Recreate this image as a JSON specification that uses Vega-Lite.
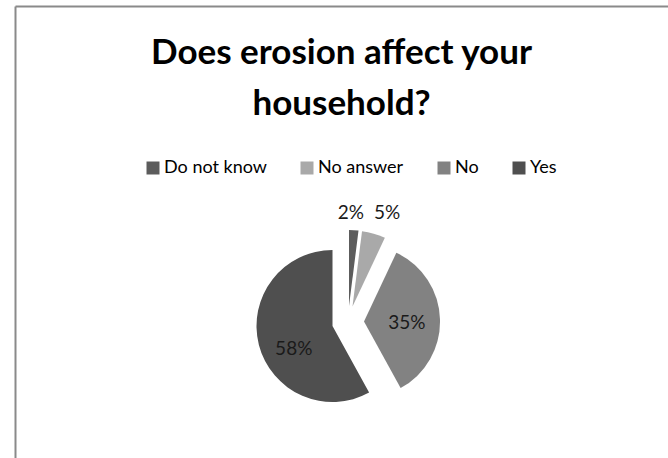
{
  "$schema": "https://vega.github.io/schema/vega-lite/v6.json",
  "width": 653,
  "height": 452,
  "autosize": {"type": "none"},
  "padding": {"left": 15, "top": 6, "right": 0, "bottom": 0},
  "background": "white",
  "config": {"view": {"stroke": null}},
  "title": {
    "text": ["Does erosion affect your", "household?"],
    "anchor": "middle",
    "frame": "group",
    "font": "Lato",
    "fontWeight": "bold",
    "fontSize": 35,
    "lineHeight": 51,
    "color": "#000000",
    "offset": -116
  },
  "data": {
    "values": [
      {"answer": "Do not know", "share": 2, "order": 1},
      {"answer": "No answer", "share": 5, "order": 2},
      {"answer": "No", "share": 35, "order": 3},
      {"answer": "Yes", "share": 58, "order": 4}
    ]
  },
  "transform": [
    {"stack": "share", "groupby": [], "sort": [{"field": "order", "order": "ascending"}], "as": ["s0", "s1"]},
    {"calculate": "(datum.s0 + datum.s1) / 2", "as": "mid"},
    {"calculate": "datum.share + '%'", "as": "label"}
  ],
  "layer": [
    {
      "mark": {"type": "point", "opacity": 0},
      "encoding": {
        "x": {"datum": 0, "type": "quantitative", "scale": {"domain": [0, 1]},
              "axis": {"orient": "top", "domain": true, "domainColor": "#8a8a8a", "domainWidth": 2, "ticks": false, "labels": false, "grid": false, "title": null}},
        "y": {"datum": 0, "type": "quantitative", "scale": {"domain": [0, 1]},
              "axis": {"orient": "left", "domain": true, "domainColor": "#8a8a8a", "domainWidth": 2, "ticks": false, "labels": false, "grid": false, "title": null}}
      }
    },
    {
      "transform": [{"filter": "datum.answer === 'Do not know'"}],
      "mark": {"type": "arc", "radius": 76, "xOffset": 7.5, "yOffset": 74},
      "encoding": {
        "theta": {"field": "s0", "type": "quantitative", "scale": {"domain": [0, 100], "range": [0, 6.283185307]}},
        "theta2": {"field": "s1"},
        "color": {"field": "answer", "type": "nominal",
          "scale": {"domain": ["Do not know", "No answer", "No", "Yes"], "range": ["#5c5c5c", "#a9a9a9", "#828282", "#4f4f4f"]},
          "legend": {"orient": "none", "legendX": 129, "legendY": 153, "direction": "horizontal", "columns": 4, "title": null,
            "symbolType": "square", "symbolSize": 169, "symbolStrokeWidth": 0, "labelFont": "Lato", "labelFontSize": 18, "labelColor": "#000000",
            "labelOffset": 2, "columnPadding": 31}}
      }
    },
    {
      "transform": [{"filter": "datum.answer === 'No answer'"}],
      "mark": {"type": "arc", "radius": 76, "xOffset": 11, "yOffset": 74.6},
      "encoding": {
        "theta": {"field": "s0", "type": "quantitative"},
        "theta2": {"field": "s1"},
        "color": {"field": "answer", "type": "nominal"}
      }
    },
    {
      "transform": [{"filter": "datum.answer === 'No'"}],
      "mark": {"type": "arc", "radius": 76, "xOffset": 22.5, "yOffset": 89.5},
      "encoding": {
        "theta": {"field": "s0", "type": "quantitative"},
        "theta2": {"field": "s1"},
        "color": {"field": "answer", "type": "nominal"}
      }
    },
    {
      "transform": [{"filter": "datum.answer === 'Yes'"}],
      "mark": {"type": "arc", "radius": 76, "xOffset": -9, "yOffset": 94},
      "encoding": {
        "theta": {"field": "s0", "type": "quantitative"},
        "theta2": {"field": "s1"},
        "color": {"field": "answer", "type": "nominal"}
      }
    },
    {
      "transform": [{"filter": "datum.answer === 'Do not know'"}],
      "mark": {"type": "text", "radius": 109, "xOffset": 2.5, "yOffset": 90, "font": "Lato", "fontSize": 19, "color": "#1a1a1a", "baseline": "middle", "align": "center"},
      "encoding": {"theta": {"field": "mid", "type": "quantitative"}, "text": {"field": "label"}}
    },
    {
      "transform": [{"filter": "datum.answer === 'No answer'"}],
      "mark": {"type": "text", "radius": 113, "xOffset": 14, "yOffset": 90, "font": "Lato", "fontSize": 19, "color": "#1a1a1a", "baseline": "middle", "align": "center"},
      "encoding": {"theta": {"field": "mid", "type": "quantitative"}, "text": {"field": "label"}}
    },
    {
      "transform": [{"filter": "datum.answer === 'No'"}],
      "mark": {"type": "text", "radius": 59, "xOffset": 6.5, "yOffset": 93, "font": "Lato", "fontSize": 19, "color": "#1a1a1a", "baseline": "middle", "align": "center"},
      "encoding": {"theta": {"field": "mid", "type": "quantitative"}, "text": {"field": "label"}}
    },
    {
      "transform": [{"filter": "datum.answer === 'Yes'"}],
      "mark": {"type": "text", "radius": 56, "xOffset": 6.5, "yOffset": 103, "font": "Lato", "fontSize": 19, "color": "#1a1a1a", "baseline": "middle", "align": "center"},
      "encoding": {"theta": {"field": "mid", "type": "quantitative"}, "text": {"field": "label"}}
    }
  ]
}
